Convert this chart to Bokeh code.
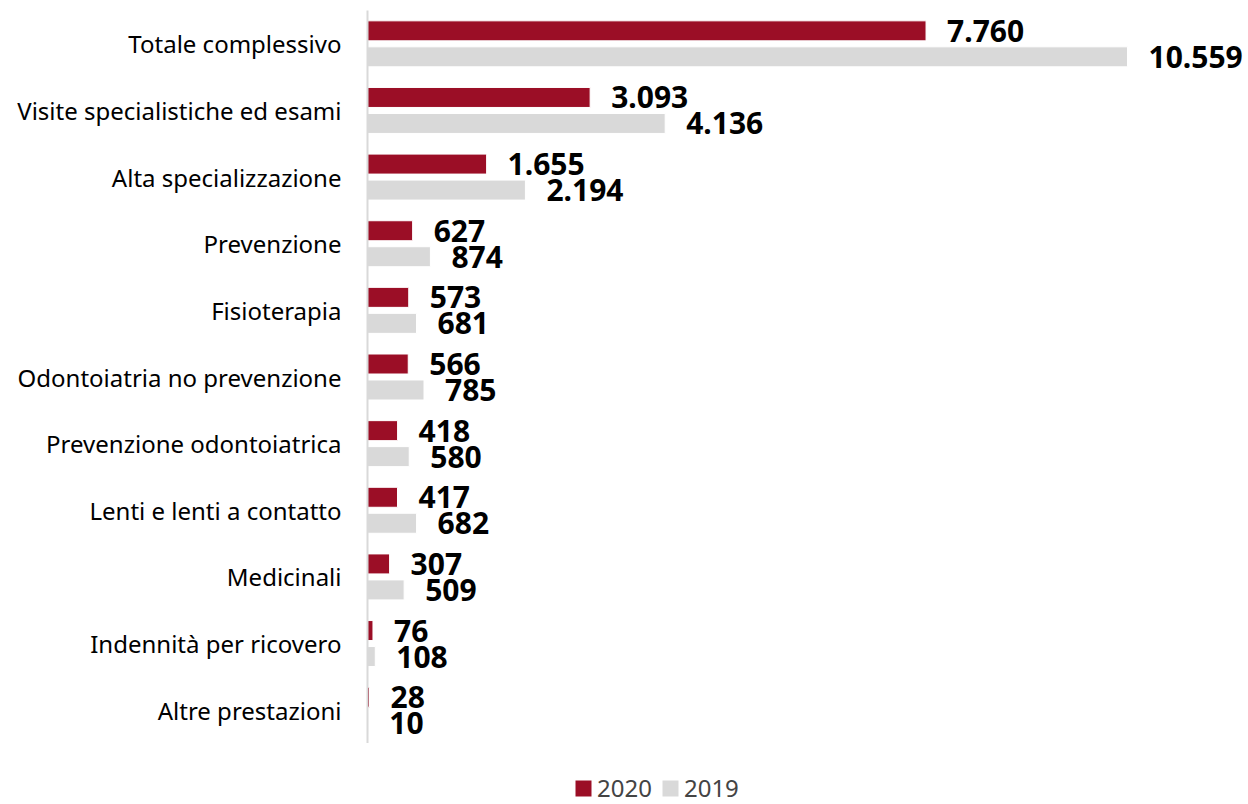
from bokeh.plotting import figure
from bokeh.models import ColumnDataSource, FactorRange, Range1d, Legend, LegendItem
from bokeh.layouts import column
from bokeh.transform import dodge
from bokeh.core.properties import value
from bokeh.embed import file_html
from bokeh.resources import INLINE

categories = ["Totale complessivo", "Visite specialistiche ed esami", "Alta specializzazione",
              "Prevenzione", "Fisioterapia", "Odontoiatria no prevenzione",
              "Prevenzione odontoiatrica", "Lenti e lenti a contatto", "Medicinali",
              "Indennità per ricovero", "Altre prestazioni"]
v2020 = [7760, 3093, 1655, 627, 573, 566, 418, 417, 307, 76, 28]
v2019 = [10559, 4136, 2194, 874, 681, 785, 580, 682, 509, 108, 10]
series = ["2020", "2019"]

def fmt(v):
    return f"{v:,}".replace(",", ".")

src = ColumnDataSource(dict(cat=categories, v2020=v2020, v2019=v2019,
                            l2020=[fmt(v) for v in v2020], l2019=[fmt(v) for v in v2019]))

RED = "#9B0E26"
GRAY = "#D9D9D9"
FONT = "Noto Sans"

p = figure(frame_width=881, frame_height=733, output_backend="svg", toolbar_location=None,
           y_range=FactorRange(*reversed(categories), range_padding=0),
           x_range=Range1d(0, 12240), x_axis_location=None,
           min_border_left=367, min_border_right=0, min_border_top=10, min_border_bottom=0)

r20 = p.hbar(y=dodge("cat", 0.195, range=p.y_range), right="v2020", left=0, height=0.3,
             source=src, fill_color=RED, line_color="white", line_width=1)
r19 = p.hbar(y=dodge("cat", -0.195, range=p.y_range), right="v2019", left=0, height=0.3,
             source=src, fill_color=GRAY, line_color="white", line_width=1)

p.text(x="v2020", y=dodge("cat", 0.195, range=p.y_range), text="l2020", source=src,
       x_offset=21, text_baseline="middle", text_align="left",
       text_font=value(FONT), text_font_style="bold", text_font_size="30px", text_color="black")
p.text(x="v2019", y=dodge("cat", -0.195, range=p.y_range), text="l2019", source=src,
       x_offset=21, text_baseline="middle", text_align="left",
       text_font=value(FONT), text_font_style="bold", text_font_size="30px", text_color="black")

p.grid.visible = False
p.outline_line_color = None

ya = p.yaxis[0]
ya.axis_line_color = GRAY
ya.axis_line_width = 2
ya.major_tick_line_color = None
ya.minor_tick_line_color = None
ya.major_tick_out = 0
ya.major_tick_in = 0
ya.major_label_standoff = 26
ya.major_label_text_font = FONT
ya.major_label_text_font_size = "24px"
ya.major_label_text_color = "black"

# legend strip below the chart (frame aligned with the main chart's frame)
lf = figure(width=1248, height=61, output_backend="svg", toolbar_location=None,
            x_axis_location=None, y_axis_location=None,
            x_range=Range1d(0, 1), y_range=Range1d(0, 1),
            min_border=0, min_border_left=0, min_border_right=0,
            min_border_top=0, min_border_bottom=0)
lf.grid.visible = False
lf.outline_line_color = None
d20 = lf.quad(left=[0], right=[0], top=[0], bottom=[0], fill_color=RED, line_color=None)
d19 = lf.quad(left=[0], right=[0], top=[0], bottom=[0], fill_color=GRAY, line_color=None)

legend = Legend(items=[LegendItem(label=series[0], renderers=[d20]),
                       LegendItem(label=series[1], renderers=[d19])],
                orientation="horizontal", location=(206, 0),
                glyph_width=20, glyph_height=20, label_text_font=FONT,
                label_text_font_size="24px", label_standoff=4, spacing=8,
                border_line_color=None, background_fill_alpha=0, padding=0, margin=0)
lf.add_layout(legend, "center")

layout = column(p, lf, spacing=0)
open("out.html", "w").write(file_html(layout, INLINE))
